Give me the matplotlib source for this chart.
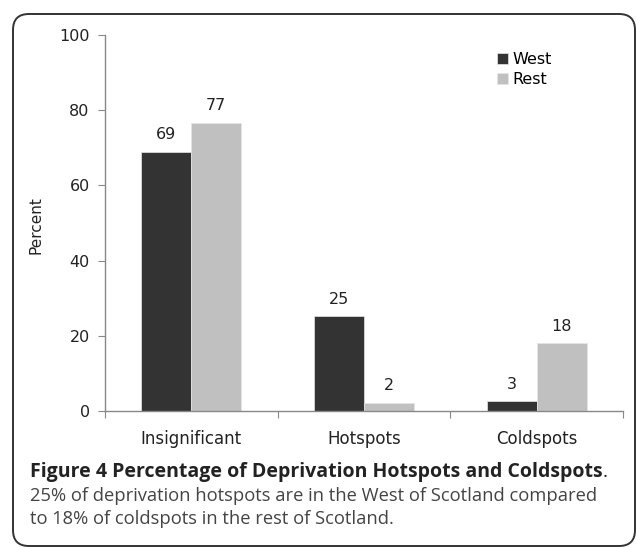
import matplotlib
matplotlib.use("Agg")
import matplotlib.pyplot as plt
from matplotlib.patches import FancyBboxPatch
import numpy as np

categories = ["Insignificant", "Hotspots", "Coldspots"]
west = [69, 25, 3]
rest = [77, 2, 18]
west_heights = [68.9, 25.2, 2.6]
rest_heights = [76.7, 2.2, 18.0]
yticks = [0, 20, 40, 60, 80, 100]

W, H = 637, 547
fig = plt.figure(figsize=(W / 100, H / 100), dpi=100)
fig.patch.set_facecolor("white")

# rounded border
border = FancyBboxPatch((13 / W, 1 / H), (635 - 13) / W, (533 - 1) / H,
                        boxstyle="round,pad=0,rounding_size=0.025",
                        transform=fig.transFigure, fill=False,
                        edgecolor="#333333", linewidth=1.4, mutation_aspect=W / H)
fig.patches.append(border)

ax = fig.add_axes([105 / W, (H - 411) / H, (623 - 105) / W, (411 - 35) / H])
x = np.arange(len(categories))
bw = 0.29
b1 = ax.bar(x - bw / 2, west_heights, bw, color="#333333", edgecolor="#e6e6e6", linewidth=0.5, label="West")
b2 = ax.bar(x + bw / 2, rest_heights, bw, color="#c0c0c0", edgecolor="#e6e6e6", linewidth=0.5, label="Rest")

for bars, vals in ((b1, west), (b2, rest)):
    for rect, v in zip(bars, vals):
        ax.annotate(str(v), (rect.get_x() + rect.get_width() / 2, rect.get_height()),
                    xytext=(0, 7), textcoords="offset points", ha="center", va="bottom",
                    fontsize=11.5, color="#222222")

ax.set_xlim(-0.5, len(categories) - 0.5)
ax.set_ylim(0, 100)
ax.set_yticks(yticks)
ax.set_yticklabels([str(t) for t in yticks], fontsize=11.5, color="#222222")
ax.set_xticks(np.arange(len(categories) + 1) - 0.5)
ax.set_xticklabels([])
ax.set_xticks(x, minor=True)
ax.set_xticklabels(categories, minor=True, fontsize=12, color="#222222")
ax.tick_params(axis="x", which="minor", length=0, pad=14)
ax.tick_params(axis="x", which="major", length=5, color="#888888", direction="out")
ax.tick_params(axis="y", length=5, color="#888888", direction="out", pad=6)
for s in ["top", "right"]:
    ax.spines[s].set_visible(False)
for s in ["left", "bottom"]:
    ax.spines[s].set_color("#888888")
    ax.spines[s].set_linewidth(1.0)
ax.set_ylabel("Percent", fontsize=11, color="#222222")
ax.yaxis.set_label_coords((43 - 105) / 518, (411 - 225) / 376)

leg = ax.legend(loc="upper right", bbox_to_anchor=(0.875, 0.972), frameon=False,
                fontsize=11.5, handlelength=0.7, handleheight=0.7, handletextpad=0.3,
                labelspacing=0.3, borderaxespad=0)

t1 = fig.text(30 / W, 1 - 472 / H, "Figure 4 Percentage of Deprivation Hotspots and Coldspots",
              fontsize=14, fontweight="bold", family="Open Sans", color="#222222", va="center")
fig.canvas.draw()
bb = t1.get_window_extent()
fig.text(bb.x1 / (W), 1 - 472 / H, ".", fontsize=14, family="Open Sans",
         color="#222222", va="center")
fig.text(30 / W, 1 - 496 / H,
         "25% of deprivation hotspots are in the West of Scotland compared",
         fontsize=13.2, family="Open Sans", color="#444444", va="center")
fig.text(30 / W, 1 - 519 / H,
         "to 18% of coldspots in the rest of Scotland.",
         fontsize=13.2, family="Open Sans", color="#444444", va="center")

fig.savefig("out.png", dpi=100)
